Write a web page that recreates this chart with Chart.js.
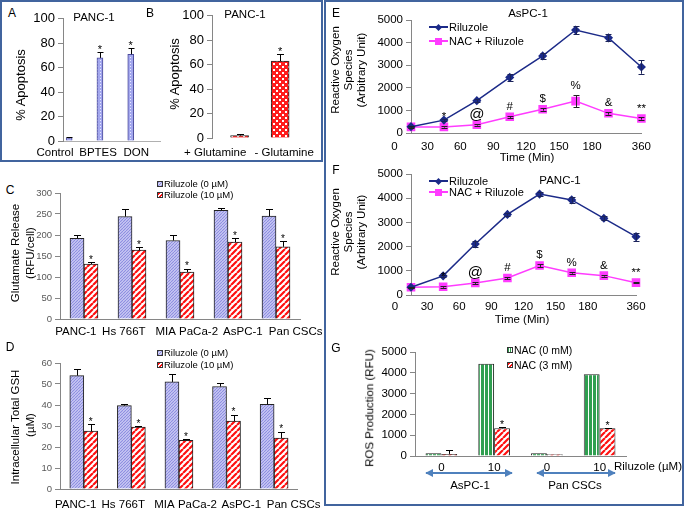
<!DOCTYPE html>
<html>
<head>
<meta charset="utf-8">
<title>Riluzole, glutamate and ROS panels</title>
<script src="https://cdn.jsdelivr.net/npm/chart.js@4.4.1/dist/chart.umd.min.js"></script>
<style>
  body { margin: 0; background: #fff; }
  #fig { position: relative; width: 685px; height: 510px; overflow: hidden; font-family: "Liberation Sans", Arial, sans-serif; color: #000; }
  #fig canvas { position: absolute; }
  .t { position: absolute; white-space: nowrap; line-height: 1; }
  .box { position: absolute; border: 2px solid #41649e; box-sizing: border-box; }
  .sw { position: absolute; width: 6px; height: 6px; border: 1px solid #333; box-sizing: border-box; }
</style>
</head>
<body>
<div id="fig">
  <div class="box" style="left:0;top:0;width:323px;height:162px"></div>
  <div class="box" style="left:324px;top:0;width:360px;height:506px"></div>
  <svg width="685" height="510" style="position:absolute;left:0;top:0">
    <defs>
      <marker id="ah" markerWidth="4" markerHeight="4" refX="3.6" refY="2" orient="auto-start-reverse">
        <path d="M0,0 L4,2 L0,4 z" fill="#4f81bd"/>
      </marker>
    </defs>
    <line x1="426" y1="473" x2="512" y2="473" stroke="#4f81bd" stroke-width="2" marker-start="url(#ah)" marker-end="url(#ah)"/>
    <line x1="537" y1="473" x2="615" y2="473" stroke="#4f81bd" stroke-width="2" marker-start="url(#ah)" marker-end="url(#ah)"/>
  </svg>
</div>
<script>
// A - apoptosis with glutaminase inhibitors
const aLabels = ["Control", "BPTES", "DON"];
const aValues = [2.5, 68, 71];
const aErrors = [0.7, 5, 5];
const aStars = ["", "*", "*"];

// B - glutamine deprivation
const bLabels = ["+ Glutamine", "- Glutamine"];
const bValues = [2, 63];
const bErrors = [1, 5.5];
const bStars = ["", "*"];

// C - glutamate release, D - intracellular GSH
const cellLines = ["PANC-1", "Hs 766T", "MIA PaCa-2", "AsPC-1", "Pan CSCs"];
const glutCtrl = [192, 244, 187, 259, 245];
const glutCtrlErr = [7, 19, 13, 5, 17];
const glutRil = [131, 164, 112, 183, 172];
const glutRilErr = [5, 8, 8, 10, 14];
const gshCtrl = [54, 39.7, 51, 48.8, 40.3];
const gshCtrlErr = [3, 0.8, 4, 1.8, 3.2];
const gshRil = [27.6, 29.5, 23.2, 32.4, 24.3];
const gshRilErr = [3.4, 0.5, 0.6, 3, 3];
const starsRed = ["*", "*", "*", "*", "*"];

// E, F - ROS time course
const timeLabels = ["0", "30", "60", "90", "120", "150", "180", "360"];
const aspcRil = [280, 570, 1430, 2460, 3410, 4560, 4210, 2920];
const aspcRilErr = [30, 60, 60, 140, 130, 180, 150, 300];
const aspcNac = [270, 270, 370, 720, 1050, 1410, 870, 640];
const aspcNacErr = [30, 30, 40, 50, 60, 260, 60, 50];
const panRil = [320, 790, 2110, 3330, 4170, 3930, 3170, 2410];
const panRilErr = [30, 50, 110, 50, 80, 110, 80, 160];
const panNac = [320, 340, 500, 700, 1220, 920, 800, 510];
const panNacErr = [30, 40, 40, 40, 60, 40, 40, 30];
const rosMarks = ["", "*", "@", "#", "$", "%", "&", "**"];

// G - ROS production with NAC
const gLabels = ["0", "10", "0", "10"];
const nac0 = [130, 4430, 130, 3930];
const nac3 = [100, 1330, 90, 1330];
const nac3Err = [170, 80, 0, 30];
const nac3Stars = ["", "*", "", "*"];

const FONT = '"Liberation Sans", Arial, sans-serif';
Chart.defaults.font.family = FONT;
Chart.defaults.color = "#000";
Chart.defaults.plugins.legend.display = false;
Chart.defaults.plugins.tooltip.enabled = false;

const fig = document.getElementById("fig");

// small tiles for the excel-like fills
function tile(size, paint) {
    const c = document.createElement("canvas");
    c.width = c.height = size;
    const g = c.getContext("2d");
    paint(g, size);
    return g.createPattern(c, "repeat");
}
const hatch = (bg, fg, size, lw) => tile(size, (g, s) => {
    g.fillStyle = bg;
    g.fillRect(0, 0, s, s);
    g.strokeStyle = fg;
    g.lineWidth = lw;
    g.beginPath();
    for (const o of [-s, 0, s]) { g.moveTo(o, s); g.lineTo(o + s, 0); }
    g.stroke();
});
const dotBlue = tile(3, (g, s) => { g.fillStyle = "#a3a7ee"; g.fillRect(0, 0, s, s); g.fillStyle = "#e8e9ff"; g.fillRect(1, 1, 1, 1); });
const dotRed = tile(6, (g, s) => { g.fillStyle = "#ff1c1c"; g.fillRect(0, 0, s, s); g.fillStyle = "#fff"; g.fillRect(1, 1, 2, 2); g.fillRect(4, 4, 2, 2); });
const lavender = hatch("#d0d0f5", "#8c8ce0", 3, 1.1);
const redStripe = hatch("#ffffff", "#ff1010", 6, 2.2);
const greenStripe = tile(4, (g, s) => { g.fillStyle = "#2f9f50"; g.fillRect(0, 0, s, s); g.fillStyle = "#fff"; g.fillRect(3, 0, 1, s); });

// error bars + significance marks, drawn through the y scale
const errorBars = {
    id: "errorBars",
    afterDatasetsDraw(chart) {
        const opts = chart.options.plugins.errorBars || {};
        const ctx = chart.ctx;
        const ys = chart.scales.y;
        chart.data.datasets.forEach((ds, i) => {
            const meta = chart.getDatasetMeta(i);
            meta.data.forEach((el, j) => {
                const raw = ds.data[j];
                const v = typeof raw === "object" ? raw.y : raw;
                const e = ds.errors ? ds.errors[j] : 0;
                const x = Math.round(el.x) + 0.5;
                const top = ys.getPixelForValue(v + e);
                ctx.save();
                ctx.strokeStyle = ds.errColor || "#000";
                ctx.lineWidth = 1;
                if (e > 0) {
                    const low = opts.both ? ys.getPixelForValue(v - e) : ys.getPixelForValue(v);
                    const cap = opts.cap || 3;
                    const t = Math.round(top) + 0.5;
                    ctx.beginPath();
                    ctx.moveTo(x, t); ctx.lineTo(x, low);
                    ctx.moveTo(x - cap, t); ctx.lineTo(x + cap, t);
                    if (opts.both) {
                        const b = Math.round(low) + 0.5;
                        ctx.moveTo(x - cap, b); ctx.lineTo(x + cap, b);
                    }
                    ctx.stroke();
                }
                const m = ds.marks ? ds.marks[j] : "";
                if (m) {
                    ctx.fillStyle = "#000";
                    const size = (m === "@" && opts.atSize) ? opts.atSize : (opts.markSize || 11);
                    ctx.font = size + "px " + FONT;
                    ctx.textAlign = "center";
                    ctx.textBaseline = "middle";
                    ctx.fillText(m, el.x, top - (opts.markGap || 2));
                }
                ctx.restore();
            });
        });
    }
};

// put a chart so that its plot area lands on a given rectangle of the page
function place(area, yw, xh, cfg, padR) {
    const padT = 10;
    padR = padR || 16;
    const w = area.r - area.l + yw + padR;
    const h = area.b - area.t + padT + xh;
    const cv = document.createElement("canvas");
    cv.width = w;
    cv.height = h;
    cv.style.left = (area.l - yw) + "px";
    cv.style.top = (area.t - padT) + "px";
    fig.appendChild(cv);
    const o = cfg.options;
    o.responsive = false;
    o.animation = false;
    o.devicePixelRatio = 1;
    o.layout = { padding: { top: padT, right: padR, left: 0, bottom: 0 } };
    o.scales.y.afterFit = s => { s.width = yw; };
    o.scales.x.afterFit = s => { s.height = xh; };
    cfg.plugins = [errorBars];
    return new Chart(cv, cfg);
}

const yAxis = (max, step, size, color) => ({
    min: 0, max: max,
    ticks: { stepSize: step, font: { size: size }, color: color, padding: 3, callback: v => String(v) },
    grid: { drawOnChartArea: false, tickLength: 5, color: "#868686" },
    border: { color: "#868686" }
});

// x axis with free label positions (category index units)
const freeX = (min, max, where, names, size, pad, border) => ({
    type: "linear", min: min, max: max, offset: false,
    afterBuildTicks: s => { s.ticks = where.map(v => ({ value: v })); },
    ticks: { callback: (v, i) => names[i], font: { size: size }, padding: pad, autoSkip: false, maxRotation: 0 },
    grid: { display: false, drawTicks: false, offset: false },
    border: border
});

const toPoints = arr => arr.map((v, i) => ({ x: i, y: v }));

// panel A
place({ l: 63, r: 160, t: 18, b: 141 }, 45, 22, {
    type: "bar",
    data: { datasets: [{ data: toPoints(aValues), errors: aErrors, marks: aStars,
        backgroundColor: dotBlue, borderColor: "#4a4a9a", borderWidth: 1, barThickness: 6 }] },
    options: {
        plugins: { errorBars: { cap: 3, markSize: 11, markGap: 2 } },
        scales: {
            x: freeX(-0.2, 2.95, [-0.46, 0.94, 2.18], aLabels, 11.5, 5, { color: "#b0b0b0" }),
            y: yAxis(100, 20, 13, "#000")
        }
    }
});

// panel B
place({ l: 212, r: 310, t: 15, b: 138 }, 45, 22, {
    type: "bar",
    data: { datasets: [{ data: toPoints(bValues), errors: bErrors, marks: bStars,
        backgroundColor: dotRed, borderColor: "#222", borderWidth: 1, barThickness: 18 }] },
    options: {
        plugins: { errorBars: { cap: 3.5, markSize: 11, markGap: 2 } },
        scales: {
            x: freeX(-0.68, 1.71, [-0.6, 1.1], bLabels, 11.5, 8, { display: false }),
            y: yAxis(100, 20, 13, "#000")
        }
    }
});

// panels C and D share the same look
function cellBars(area, ctrl, ctrlErr, ril, rilErr, max, step, pad) {
    return place(area, 45, 24, {
        type: "bar",
        data: {
            datasets: [
                { data: toPoints(ctrl), errors: ctrlErr, backgroundColor: lavender, borderColor: "#222", borderWidth: 1, barThickness: 14 },
                { data: toPoints(ril), errors: rilErr, marks: starsRed, backgroundColor: redStripe, borderColor: "#222", borderWidth: 1, barThickness: 14 }
            ]
        },
        options: {
            plugins: { errorBars: { cap: 3.5, markSize: 10, markGap: 2 } },
            scales: {
                x: freeX(-0.5, 4.5, [-0.17, 0.83, 2.14, 3.31, 4.41], cellLines, 11.5, pad, { color: "#868686" }),
                y: yAxis(max, step, 9.5, "#595959")
            }
        }
    }, 30);
}
cellBars({ l: 60, r: 300, t: 193, b: 319 }, glutCtrl, glutCtrlErr, glutRil, glutRilErr, 300, 50, 6);
cellBars({ l: 60, r: 300, t: 363, b: 489 }, gshCtrl, gshCtrlErr, gshRil, gshRilErr, 60, 10, 9);

// panels E and F
function rosLines(area, ril, rilErr, nac, nacErr, pad) {
    return place(area, 60, 22, {
        type: "line",
        data: {
            datasets: [
                { data: toPoints(ril), errors: rilErr, errColor: "#1b2358", borderColor: "#1b2a88", backgroundColor: "#1b2a88",
                  borderWidth: 1.5, pointStyle: "rectRot", pointRadius: 3.5, clip: false },
                { data: toPoints(nac), errors: nacErr, marks: rosMarks, errColor: "#222", borderColor: "#ff3cff", backgroundColor: "#ff3cff",
                  borderWidth: 1.5, pointStyle: "rect", pointRadius: 5, clip: false }
            ]
        },
        options: {
            plugins: { errorBars: { cap: 3, both: true, markSize: 11.5, atSize: 15, markGap: 9 } },
            scales: {
                x: freeX(0, 7, [-0.5, 0.5, 1.5, 2.5, 3.5, 4.5, 5.5, 7], timeLabels, 11.5, pad, { color: "#868686" }),
                y: yAxis(5000, 1000, 11.5, "#000")
            }
        }
    });
}
rosLines({ l: 411, r: 642, t: 20, b: 133 }, aspcRil, aspcRilErr, aspcNac, aspcNacErr, 7);
rosLines({ l: 411, r: 636, t: 174, b: 295 }, panRil, panRilErr, panNac, panNacErr, 5);

// panel G
place({ l: 415, r: 626, t: 352, b: 456 }, 50, 22, {
    type: "bar",
    data: {
        labels: gLabels,
        datasets: [
            { data: nac0, backgroundColor: greenStripe, borderColor: "#222", borderWidth: 1 },
            { data: nac3, errors: nac3Err, marks: nac3Stars, backgroundColor: redStripe, borderColor: "#222", borderWidth: 1 }
        ]
    },
    options: {
        datasets: { bar: { categoryPercentage: 0.6, barPercentage: 1 } },
        plugins: { errorBars: { cap: 3.5, markSize: 10.5, markGap: 2 } },
        scales: {
            x: { ticks: { font: { size: 11.5 }, padding: 5, autoSkip: false, maxRotation: 0 },
                grid: { display: false, drawTicks: false }, border: { color: "#868686" } },
            y: yAxis(5000, 1000, 11.5, "#000")
        }
    }
});

// texts, legends
function txt(s, x, y, size, opt) {
    opt = opt || {};
    const d = document.createElement("div");
    d.className = "t";
    d.textContent = s;
    d.style.left = x + "px";
    d.style.top = y + "px";
    d.style.fontSize = size + "px";
    if (opt.color) d.style.color = opt.color;
    let tr = opt.left ? "translate(0,-50%)" : "translate(-50%,-50%)";
    if (opt.rot) tr += " rotate(-90deg)";
    d.style.transform = tr;
    fig.appendChild(d);
}
function swatch(x, y, bg) {
    const d = document.createElement("div");
    d.className = "sw";
    d.style.left = x + "px";
    d.style.top = y + "px";
    d.style.background = bg;
    fig.appendChild(d);
}
function lineKey(x, y, color, diamond) {
    const l = document.createElement("div");
    l.style.cssText = `position:absolute;left:${x}px;top:${y - 0.75}px;width:19px;height:1.5px;background:${color}`;
    fig.appendChild(l);
    const m = document.createElement("div");
    const s = diamond ? 5 : 7;
    m.style.cssText = `position:absolute;left:${x + 9.5 - s / 2}px;top:${y - s / 2}px;width:${s}px;height:${s}px;background:${color};` +
        (diamond ? "transform:rotate(45deg)" : "");
    fig.appendChild(m);
}

const lavCss = "repeating-linear-gradient(135deg,#8c8ce0 0 1px,#d0d0f5 1px 2.2px)";
const redCss = "repeating-linear-gradient(135deg,#ff1010 0 1.6px,#fff 1.6px 3px)";
const greenCss = "repeating-linear-gradient(90deg,#2f9f50 0 1.5px,#fff 1.5px 2px)";

txt("A", 12, 13, 12);
txt("PANC-1", 94, 18, 11.5);
txt("% Apoptosis", 20, 85, 13, { rot: true });
txt("B", 150, 13, 12);
txt("PANC-1", 245, 15, 11.5);
txt("% Apoptosis", 174, 74, 13, { rot: true });

txt("C", 10, 190, 12);
txt("Glutamate Release", 16, 253, 11.5, { rot: true });
txt("(RFU/cell)", 31, 253, 11.5, { rot: true });
swatch(157, 181, lavCss); txt("Riluzole (0 µM)", 164, 184, 9.5, { left: true });
swatch(157, 192, redCss); txt("Riluzole (10 µM)", 164, 195, 9.5, { left: true });

txt("D", 10, 347, 12);
txt("Intracellular Total GSH", 16, 427, 11.5, { rot: true });
txt("(µM)", 31, 425, 11.5, { rot: true });
swatch(157, 350, lavCss); txt("Riluzole (0 µM)", 164, 353, 9.5, { left: true });
swatch(157, 362, redCss); txt("Riluzole (10 µM)", 164, 365, 9.5, { left: true });

txt("E", 336, 13, 12);
txt("AsPC-1", 528, 14, 11.5);
txt("Reactive Oxygen", 336, 70, 11.5, { rot: true });
txt("Species", 349, 70, 11.5, { rot: true });
txt("(Arbitrary Unit)", 362, 70, 11.5, { rot: true });
txt("Time (Min)", 527, 158, 11.5);
lineKey(429, 27, "#1b2a88", true); txt("Riluzole", 449, 27, 11, { left: true });
lineKey(429, 41, "#ff3cff", false); txt("NAC + Riluzole", 449, 41, 11, { left: true });

txt("F", 336, 170, 12);
txt("PANC-1", 560, 181, 11.5);
txt("Reactive Oxygen", 336, 232, 11.5, { rot: true });
txt("Species", 349, 232, 11.5, { rot: true });
txt("(Arbitrary Unit)", 362, 232, 11.5, { rot: true });
txt("Time (Min)", 522, 320, 11.5);
lineKey(429, 181, "#1b2a88", true); txt("Riluzole", 449, 181, 11, { left: true });
lineKey(429, 192, "#ff3cff", false); txt("NAC + Riluzole", 449, 192, 11, { left: true });

txt("G", 336, 348, 12);
txt("ROS Production (RFU)", 370, 408, 11.5, { rot: true });
swatch(507, 347, greenCss); txt("NAC (0 mM)", 514, 350, 10.5, { left: true });
swatch(507, 362, redCss); txt("NAC (3 mM)", 514, 365, 10.5, { left: true });
txt("Riluzole (µM)", 614, 467, 11.5, { left: true });
txt("AsPC-1", 470, 486, 11.5);
txt("Pan CSCs", 575, 486, 11.5);
</script>
</body>
</html>
